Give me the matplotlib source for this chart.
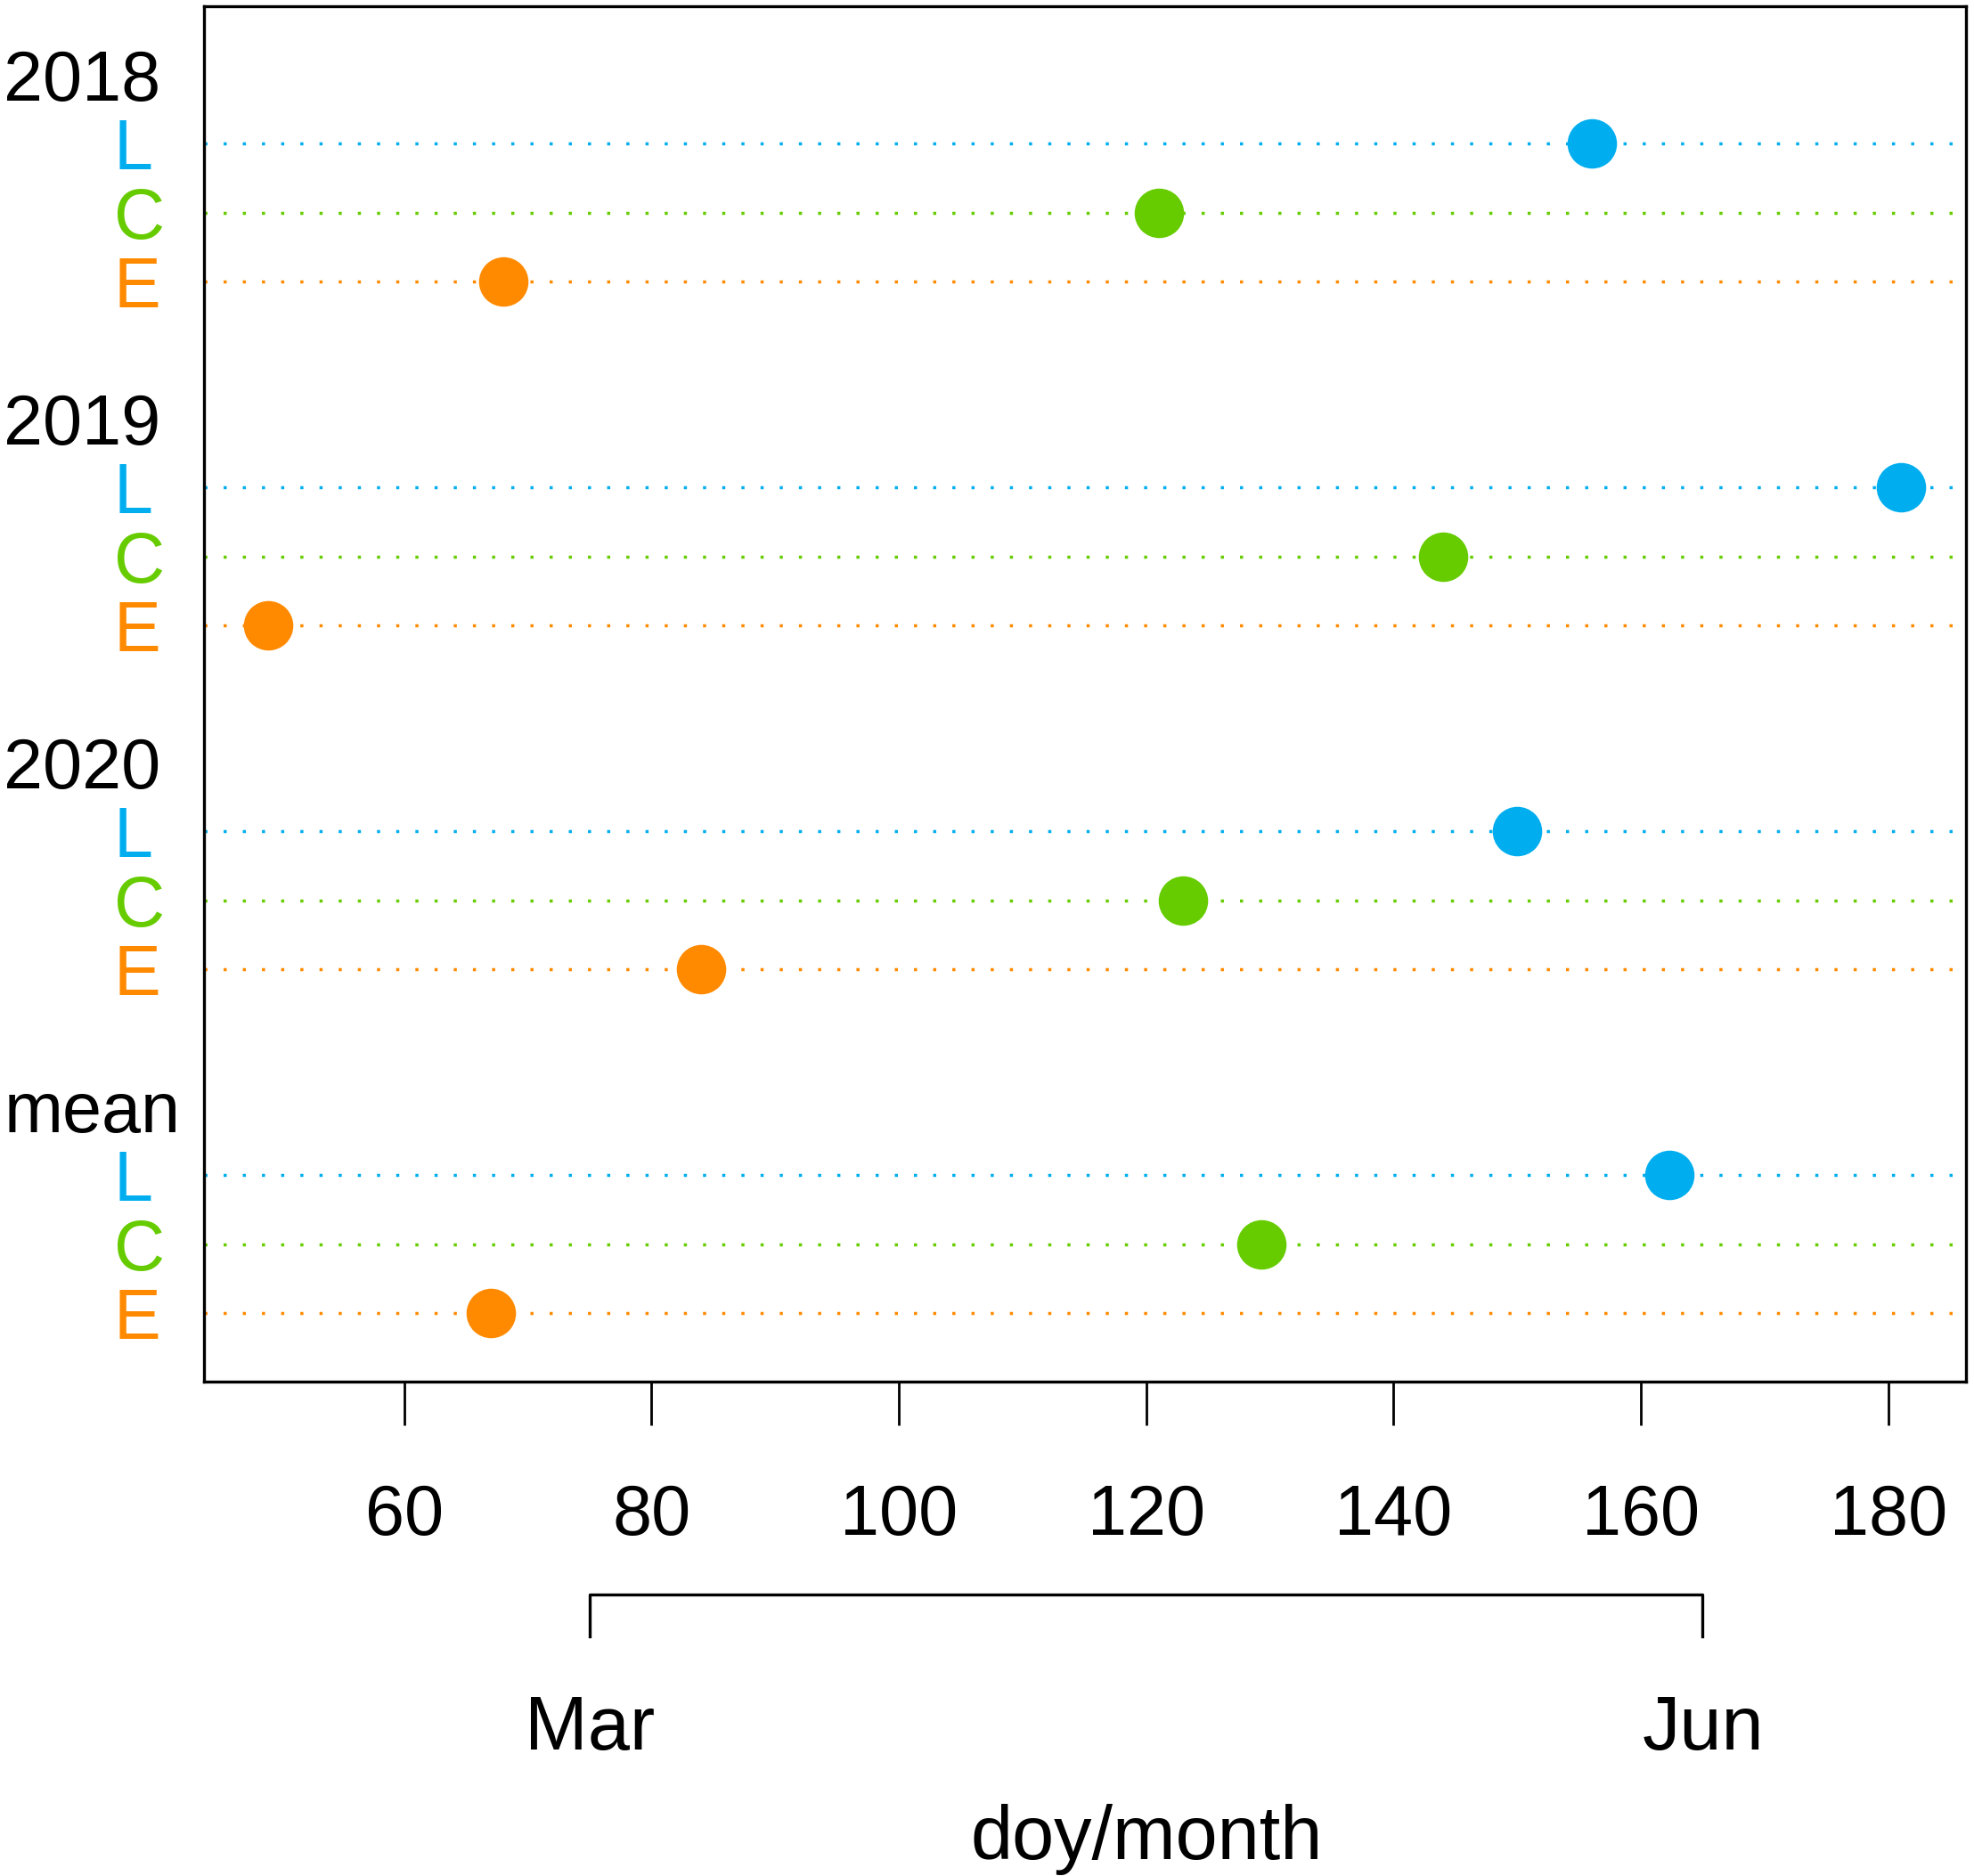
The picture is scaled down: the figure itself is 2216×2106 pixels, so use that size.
import matplotlib
matplotlib.use("Agg")
import matplotlib.pyplot as plt
from matplotlib.transforms import blended_transform_factory

plt.rcParams['font.family'] = ['Liberation Sans', 'DejaVu Sans']

# phenological dates (day of year) per year, classes L / C / E
groups = ['2018', '2019', '2020', 'mean']
classes = ['L', 'C', 'E']
doy_L = [156, 181, 150, 162.3]
doy_C = [121, 144, 123, 129.3]
doy_E = [68, 49, 84, 67]

class_colors = {'L': '#00AEEF', 'C': '#66CC00', 'E': '#FF8A00'}

x_ticks = [60, 80, 100, 120, 140, 160, 180]
month_names = ['Mar', 'Jun']
month_doy = [75, 165]

fig = plt.figure(figsize=(22.16, 21.06), dpi=100)
ax = fig.add_axes([0.1033, 0.2635, 0.8927, 0.7332])

values = {'L': doy_L, 'C': doy_C, 'E': doy_E}
fs = 57
fs_big = 61
lab_tr = blended_transform_factory(fig.transFigure, ax.transData)

# each group takes 5 rows: header, L, C, E, blank
for g, name in enumerate(groups):
    base = g * 5
    fig.text(0.002, base, name, transform=lab_tr, fontsize=fs,
             ha='left', va='center_baseline')
    for k, cl in enumerate(classes):
        y = base + 1 + k
        ax.axhline(y, color=class_colors[cl], linestyle=(0, (1, 5.2)),
                   linewidth=2.5, zorder=1)
        ax.plot(values[cl][g], y, 'o', color=class_colors[cl],
                markersize=40, markeredgewidth=0, zorder=3)
        fig.text(0.0577, y, cl, transform=lab_tr, fontsize=fs,
                 color=class_colors[cl], ha='left', va='center_baseline')

ax.set_xlim(43.8, 186.3)
ax.set_ylim(19, -1)
ax.set_yticks([])
ax.set_xticks(x_ticks)
ax.tick_params(axis='x', length=35, width=2.0, pad=47, labelsize=fs)
for sp in ax.spines.values():
    sp.set_linewidth(2.4)

# month bracket below the doy axis
br_tr = ax.get_xaxis_transform()
ax.plot([month_doy[0], month_doy[0], month_doy[1], month_doy[1]],
        [-0.185, -0.155, -0.155, -0.185], color='black', linewidth=2.4,
        transform=br_tr, clip_on=False)
for m, d in zip(month_names, month_doy):
    ax.text(d, -0.2474, m, transform=br_tr, fontsize=fs_big,
            ha='center', va='center_baseline')
ax.text(120, -0.327, 'doy/month', transform=br_tr, fontsize=fs_big,
        ha='center', va='center_baseline')

fig.savefig('out.png', dpi=100)
